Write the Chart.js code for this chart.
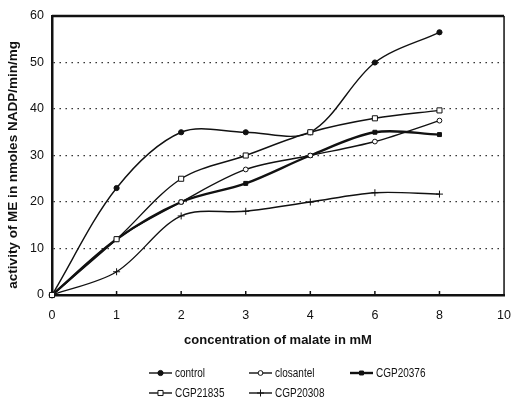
<!DOCTYPE html>
<html>
<head>
<meta charset="utf-8">
<title>Malic enzyme activity</title>
<script src="https://cdn.jsdelivr.net/npm/chart.js@4/dist/chart.umd.min.js"></script>
<style>
  html, body { margin: 0; padding: 0; background: #fff; }
</style>
</head>
<body>
<canvas id="meChart" width="524" height="400"></canvas>
<script>
// malate concentration (mM) on a category axis, activity in nmoles NADP/min/mg
const concLabels = ['0', '1', '2', '3', '4', '6', '8', '10'];
const control   = [0, 23, 35, 35, 35, 50, 56.5];
const closantel = [0, 12, 20, 27, 30, 33, 37.5];
const cgp20376  = [0, 12, 20, 24, 30, 35, 34.5];
const cgp21835  = [0, 12, 25, 30, 35, 38, 39.7];
const cgp20308  = [0, 5, 17, 18, 20, 22, 21.7];
const yTicks = [0, 10, 20, 30, 40, 50, 60];

const ink = '#111';
const tickFont = { family: 'Arial, "Liberation Sans", sans-serif', size: 12.5 };
const legendFont = '12.5px Arial, "Liberation Sans", sans-serif';

function series(label, data, pointStyle, radius, fill, width, order) {
  return {
    label: label,
    data: data,
    order: order ?? 1,
    borderColor: ink,
    borderWidth: width || 1.4,
    tension: 0.33,
    clip: false,
    pointStyle: pointStyle,
    pointRadius: radius,
    pointHoverRadius: radius,
    pointBackgroundColor: fill,
    pointBorderColor: ink,
    pointBorderWidth: 1
  };
}

// top/right frame and small inward ticks on the x axis
const framePlugin = {
  id: 'frame',
  afterDatasetsDraw(chart) {
    const { ctx, chartArea: a, scales } = chart;
    ctx.save();
    ctx.strokeStyle = ink;
    ctx.lineWidth = 2.5;
    ctx.beginPath();
    ctx.moveTo(a.left, a.top);
    ctx.lineTo(a.right, a.top);
    ctx.stroke();
    ctx.lineWidth = 1.5;
    ctx.beginPath();
    ctx.moveTo(a.right, a.top);
    ctx.lineTo(a.right, a.bottom);
    ctx.stroke();
    const xs = scales.x;
    for (let i = 1; i < xs.ticks.length - 1; i++) {
      const px = xs.getPixelForTick(i);
      ctx.beginPath();
      ctx.moveTo(px, a.bottom);
      ctx.lineTo(px, a.bottom - 4);
      ctx.stroke();
    }
    ctx.restore();
  }
};

// legend: line sample with marker, three per row, narrow text
const legendPlugin = {
  id: 'sampleLegend',
  afterDraw(chart) {
    const ctx = chart.ctx;
    const colX = [149, 249, 350];
    const rowY = [373, 393];
    ctx.save();
    chart.data.datasets.forEach((ds, i) => {
      const x = colX[i % 3];
      const y = rowY[Math.floor(i / 3)];
      ctx.strokeStyle = ink;
      ctx.lineWidth = ds.borderWidth;
      ctx.beginPath();
      ctx.moveTo(x, y);
      ctx.lineTo(x + 23, y);
      ctx.stroke();
      ctx.fillStyle = ds.pointBackgroundColor;
      ctx.lineWidth = ds.pointBorderWidth;
      Chart.helpers.drawPoint(ctx, {
        pointStyle: ds.pointStyle,
        radius: ds.pointRadius,
        rotation: 0,
        borderWidth: ds.pointBorderWidth
      }, x + 11.5, y);
      ctx.save();
      ctx.translate(x + 26, y + 0.5);
      ctx.scale(0.8, 1);
      ctx.fillStyle = ink;
      ctx.font = legendFont;
      ctx.textBaseline = 'middle';
      ctx.textAlign = 'left';
      ctx.fillText(ds.label, 0, 0);
      ctx.restore();
    });
    ctx.restore();
  }
};

new Chart(document.getElementById('meChart'), {
  type: 'line',
  data: {
    labels: concLabels,
    datasets: [
      series('control', control, 'circle', 2.6, ink),
      series('closantel', closantel, 'circle', 2.4, '#fff'),
      series('CGP20376', cgp20376, 'rect', 2.8, ink, 2.4),
      series('CGP21835', cgp21835, 'rect', 3.6, '#fff', 1.4, 0),
      series('CGP20308', cgp20308, 'cross', 3.5, ink)
    ]
  },
  options: {
    responsive: false,
    animation: false,
    layout: { padding: { top: 16, right: 8, bottom: 50, left: 0 } },
    plugins: {
      legend: { display: false },
      tooltip: { enabled: false }
    },
    scales: {
      x: {
        type: 'category',
        offset: false,
        afterFit(s) { s.height = 55; },
        grid: { display: false, drawTicks: false },
        border: { display: true, color: ink, width: 2.5 },
        ticks: { color: ink, font: tickFont, padding: 13, autoSkip: false, maxRotation: 0 },
        title: {
          display: true,
          text: 'concentration of malate in mM',
          color: ink,
          font: { family: 'Arial, "Liberation Sans", sans-serif', size: 13, weight: 'bold' },
          padding: { top: 0, bottom: 2 }
        }
      },
      y: {
        min: 0,
        max: 60,
        afterFit(s) { s.width = 52; },
        afterBuildTicks(s) { s.ticks = yTicks.map(v => ({ value: v })); },
        grid: {
          drawTicks: false,
          color: c => (c.tick.value === 0 || c.tick.value === 60) ? 'rgba(0,0,0,0)' : '#222',
          lineWidth: 1.3
        },
        border: { display: true, color: ink, width: 2.5, dash: [1.4, 4.6] },
        ticks: { color: ink, font: tickFont, padding: 8 },
        title: {
          display: true,
          text: 'activity of ME in nmoles NADP/min/mg     ',
          color: ink,
          font: { family: 'Arial, "Liberation Sans", sans-serif', size: 13.5, weight: 'bold' },
          padding: { top: 5.4, bottom: 0 }
        }
      }
    }
  },
  plugins: [framePlugin, legendPlugin]
});
</script>
</body>
</html>
